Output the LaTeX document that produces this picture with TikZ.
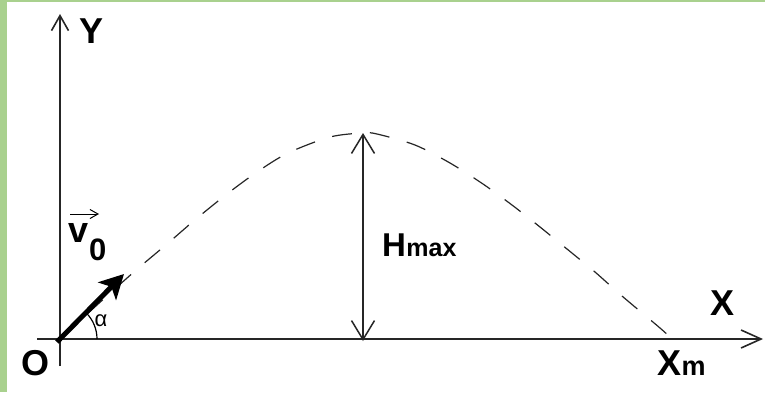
\documentclass[tikz,border=0pt]{standalone}
\usepackage{fontspec}
\setmainfont{Liberation Sans}
\usetikzlibrary{arrows.meta,calc}
\definecolor{framegreen}{RGB}{169,209,142}
\begin{document}
\begin{tikzpicture}[x=1pt,y=-1pt,
  axisline/.style={line width=1.6pt, draw=black!85},
  traj/.style={line width=1.2pt, draw=black!85, dash pattern=on 20pt off 18pt},
  hline/.style={line width=1.5pt, draw=black!85},
  vel/.style={line width=5pt, draw=black},
  big/.style={inner sep=0pt, font=\fontsize{36}{36}\selectfont\bfseries},
  sub/.style={inner sep=0pt, font=\fontsize{27}{27}\selectfont\bfseries},
  greek/.style={inner sep=0pt, font=\fontsize{22}{22}\selectfont}
]
\useasboundingbox (0,0) rectangle (765,392);
\fill[white] (0,0) rectangle (765,392);
\fill[framegreen] (0,0) rectangle (7,392);
\fill[framegreen] (0,0) rectangle (765,2);

% coordinates
\coordinate (o) at (60,339);
\coordinate (xstart) at (37,339);
\coordinate (xend) at (763,339);
\coordinate (ybot) at (60,366);
\coordinate (ytop) at (60,14);
\coordinate (peak) at (363,133);
\coordinate (foot) at (363,341);
\coordinate (vstart) at (57,342);
\coordinate (vtip) at (124,274);

% axes
\draw[axisline, -{Straight Barb[length=20pt,width=18pt]}] (xstart) -- (xend);
\draw[axisline, -{Straight Barb[length=15pt,width=17pt]}] (ybot) -- (ytop);

% trajectory
\draw[traj] plot[smooth, tension=0.5] coordinates {
  (60,339) (97,305) (135,271) (167,244) (196,219) (227,194) (257,172)
  (288,153) (330,137) (363,133) (377,134) (415,145) (450,163) (483,184)
  (512,205) (540,227) (567,249) (595,272) (622,296) (660,328) (672,339)};

% Hmax arrow
\draw[hline, {Straight Barb[length=19pt,width=23pt]}-{Straight Barb[length=19pt,width=23pt]}] (foot) -- (peak);

% velocity vector
\draw[vel, -{Stealth[length=24pt,width=25pt,inset=6pt]}] (vstart) -- (vtip);

% angle arc
\draw[line width=1.2pt] ($(o)+(37,0)$) arc[start angle=0, end angle=-45, radius=37];

% labels
\node[big, anchor=base] (ylab) at (92,43) {Y};
\node[big, anchor=base] (olab) at (36,375) {O};
\node[big, anchor=base] (xlab) at (722,315) {X};
\node[big, anchor=base west] (xmX) at (657,375) {X};
\node[sub, anchor=base west] (xmm) at (xmX.base east) {m};
\node[inner sep=0pt, font=\fontsize{33}{33}\selectfont\bfseries, anchor=base west] (hH) at (382,256) {H};
\node[inner sep=0pt, font=\fontsize{25}{25}\selectfont\bfseries, anchor=base west] (hmax) at (hH.base east) {max};
\node[inner sep=0pt, font=\fontsize{36}{36}\selectfont\bfseries, anchor=base west] (vlab) at (68,242) {v};
\node[inner sep=0pt, font=\fontsize{31}{31}\selectfont\bfseries, anchor=base west] (vsub) at (89,260) {0};
\coordinate (varrL) at (70,214);
\coordinate (varrR) at (99,214);
\draw[line width=1pt, -{Straight Barb[length=8pt,width=9pt]}] (varrL) -- (varrR);
\node[greek] (alab) at (101,321) {α};
\end{tikzpicture}
\end{document}
